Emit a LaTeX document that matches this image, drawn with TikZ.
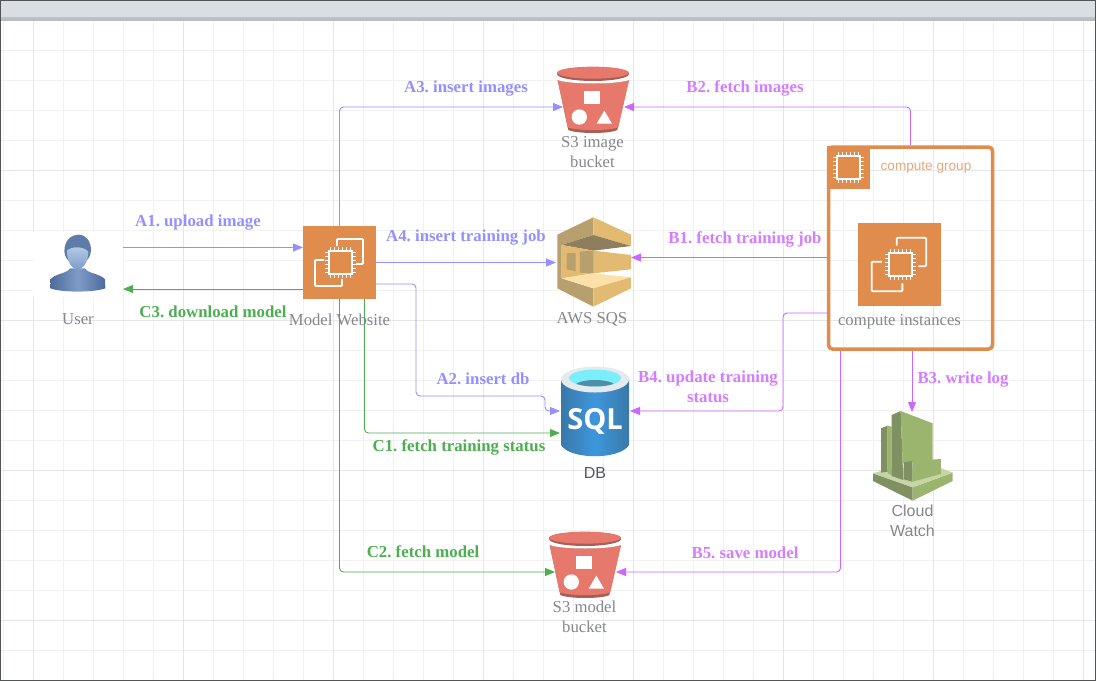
\documentclass[tikz,border=0pt]{standalone}
\usepackage{fontspec}
\setmainfont{Liberation Serif}
\setsansfont{Liberation Sans}
\newfontfamily\sqlfont{Open Sans}
\usetikzlibrary{arrows.meta,calc}
\definecolor{ca}{HTML}{9590FF}
\definecolor{cb}{HTML}{CC66FF}
\definecolor{cc}{HTML}{4CAF50}
\definecolor{awsor}{HTML}{E08C4D}
\definecolor{gminor}{HTML}{F1F1F1}
\definecolor{gmajor}{HTML}{E6E6E6}
\definecolor{lab}{HTML}{85878F}
\definecolor{s3a}{HTML}{E7796C}
\definecolor{s3b}{HTML}{A85E55}
\definecolor{sqa}{HTML}{E2BA72}
\definecolor{sqb}{HTML}{B8A06E}
\definecolor{sqc}{HTML}{8E7E5E}
\definecolor{sqd}{HTML}{FBE0A9}
\definecolor{cwa}{HTML}{9BB56F}
\definecolor{cwb}{HTML}{7F9163}
\definecolor{cwc}{HTML}{C5D5A5}
\definecolor{HTMLbody}{HTML}{4C6A9C}
\definecolor{HTMLbodymid}{HTML}{7F9CC8}
\definecolor{HTMLhair}{HTML}{5F7BA8}
\definecolor{HTMLface}{HTML}{B5CDE9}
\definecolor{HTMLbar}{HTML}{D9DEE2}
\definecolor{HTMLframe}{HTML}{505458}
\definecolor{HTMLsqla}{HTML}{3D97DC}
\definecolor{HTMLsqlb}{HTML}{3A78A8}
\definecolor{HTMLring}{HTML}{E6EAEC}
\definecolor{HTMLcyan}{HTML}{7AEEFB}
\definecolor{HTMLdeep}{HTML}{4B8FA8}
\definecolor{HTMLdb}{HTML}{55595F}
\tikzset{
  x=1pt,y=-1pt,
  box/.style={inner sep=0pt,outer sep=0pt,minimum width=#1},
  conn/.style={line width=0.9pt,rounded corners=4pt,-{Triangle[length=10pt,width=8pt]}},
  la/.style={conn,draw=ca},
  lb/.style={conn,draw=cb},
  lc/.style={conn,draw=cc},
  steplabel/.style={font=\frenchspacing\fontsize{16.8}{20}\selectfont\bfseries,align=center,inner sep=0pt},
  ta/.style={steplabel,text=ca},
  tb/.style={steplabel,text=cb!85!white},
  tc/.style={steplabel,text=cc},
  caplabel/.style={font=\fontsize{16.7}{20}\selectfont,text=lab,align=center,inner sep=0pt},
  sanscap/.style={font=\fontsize{16}{20}\selectfont\sffamily,text=lab,align=center,inner sep=0pt},
  chip/.pic={
    \draw[white,line width=1.9pt] (-11.5,-11.5) rectangle (11.5,11.5);
    \foreach \t in {-10,-6,-2,2,6,10}{
      \draw[white,line width=1.4pt] (\t,-15.5) -- (\t,-12);
      \draw[white,line width=1.4pt] (\t,12) -- (\t,15.5);
      \draw[white,line width=1.4pt] (-15.5,\t) -- (-12,\t);
      \draw[white,line width=1.4pt] (12,\t) -- (15.5,\t);
    }
  },
  ectwo/.pic={
    \fill[awsor] (0,0) rectangle (73,73);
    \draw[white,line width=1.8pt,rounded corners=1pt] (34,20) -- (34,13) -- (60,13) -- (60,38) -- (53,38);
    \draw[white,line width=1.8pt,rounded corners=1pt] (21,34) -- (12,34) -- (12,60) -- (39,60) -- (39,53);
    \pic at (37.5,36.5) {chip};
  },
  sthree/.pic={
    \fill[s3b] (83,90) -- (115,240) .. controls (140,252) and (240,252) .. (262,240) -- (297,90) -- cycle;
    \fill[s3a] (83,90) .. controls (120,104) and (260,104) .. (297,90) -- (265,232) .. controls (240,243) and (140,243) .. (113,232) -- cycle;
    \fill[white] (81,75) -- (83,90) .. controls (120,104) and (260,104) .. (297,90) -- (298,75) -- cycle;
    \fill[s3b] (189,72) ellipse [x radius=108, y radius=21];
    \fill[s3a] (189,68) ellipse [x radius=108, y radius=18];
    \fill[white] (162,124) rectangle (210,163);
    \fill[white] (148,201) circle [radius=23];
    \fill[white] (223,182) -- (200,221) -- (246,221) -- cycle;
  },
  sqsicon/.pic={
    \fill[sqb] (190,52) -- (82,104) -- (82,265) -- (190,320) -- (190,265) -- (95,235) -- (95,135) -- (190,105) -- cycle;
    \fill[sqa] (190,52) -- (303,104) -- (303,138) -- (190,105) -- cycle;
    \fill[sqc] (190,105) -- (303,138) -- (190,152) -- (95,135) -- cycle;
    \fill[sqa] (95,135) -- (190,152) -- (303,165) -- (303,208) -- (190,220) -- (95,235) -- cycle;
    \fill[sqb] (110,160) -- (137,158) -- (137,214) -- (110,208) -- cycle;
    \fill[sqb] (150,155) -- (190,152) -- (190,220) -- (150,218) -- cycle;
    \fill[sqd] (95,235) -- (190,220) -- (303,232) -- (190,265) -- cycle;
    \fill[sqa] (190,265) -- (303,232) -- (303,265) -- (190,320) -- cycle;
  },
  cwicon/.pic={
    \fill[cwb] (69,220) -- (188,262) -- (188,302) -- (69,243) -- cycle;
    \fill[cwa] (188,262) -- (308,218) -- (308,243) -- (188,302) -- cycle;
    \fill[cwc] (69,220) -- (125,203) -- (275,205) -- (308,218) -- (188,262) -- cycle;
    \fill[cwb] (93,85) -- (113,77) -- (113,215) -- (93,218) -- cycle;
    \fill[cwa] (113,77) -- (125,80) -- (125,225) -- (113,220) -- cycle;
    \fill[cwb] (125,45) -- (152,33) -- (160,240) -- (125,228) -- cycle;
    \fill[cwa] (152,33) -- (248,70) -- (248,180) -- (160,190) -- (160,240) -- cycle;
    \fill[cwb] (162,187) -- (187,183) -- (187,245) -- (162,238) -- cycle;
    \fill[cwa] (187,183) -- (273,177) -- (273,222) -- (187,245) -- cycle;
  },
  usericon/.pic={
    \shade[left color=HTMLbody,right color=HTMLbody,middle color=HTMLbodymid]
      (91,205) -- (92,178) .. controls (105,160) and (140,162) .. (150,145) -- (195,145) .. controls (205,162) and (240,160) .. (255,178) -- (256,205) .. controls (220,218) and (125,218) .. (91,205) -- cycle;
    \fill[HTMLhair] (133,95) .. controls (133,60) and (155,44) .. (175,44) .. controls (200,44) and (213,65) .. (213,92) .. controls (211,110) and (205,118) .. (195,125) -- (150,125) .. controls (140,118) and (135,110) .. (133,95) -- cycle;
    \shade[top color=HTMLface,bottom color=HTMLbodymid] (141,92) .. controls (155,78) and (190,78) .. (205,95) .. controls (205,125) and (190,148) .. (172,148) .. controls (155,148) and (141,125) .. (141,92) -- cycle;
  }
}
\begin{document}
\begin{tikzpicture}
\path[use as bounding box] (0,0) rectangle (1096,681);
\fill[white] (0,0) rectangle (1096,681);
% grid
\foreach \gx in {3,33,...,1095}{\draw[gminor,line width=0.8pt] (\gx,20) -- (\gx,681);}
\foreach \gy in {20,50,...,680}{\draw[gminor,line width=0.8pt] (0,\gy) -- (1096,\gy);}
\foreach \gx in {33,183,...,1095}{\draw[gmajor,line width=0.8pt] (\gx,20) -- (\gx,681);}
\foreach \gy in {170,320,470,620}{\draw[gmajor,line width=0.8pt] (0,\gy) -- (1096,\gy);}
% title bar and frame
\shade[top color=HTMLbar,bottom color=HTMLbar!85!black] (0,0) rectangle (1096,20);
\fill[HTMLbar] (0,0) rectangle (1096,17);
\draw[HTMLframe,line width=1.2pt] (0.5,0.5) rectangle (1095.5,680.5);
% anchors of the icons
\fill[white] (33,232) rectangle (123,297);
\node[box=90pt,minimum height=65pt] (user) at (78,264.5) {};
\node[box=73pt,minimum height=73pt] (web) at (339.5,262.5) {};
\node[box=61pt,minimum height=68pt] (s3img) at (593.5,100) {};
\node[box=75pt,minimum height=90pt] (sqs) at (593.5,262.5) {};
\node[box=70pt,minimum height=92pt] (db) at (595,411) {};
\node[box=80pt,minimum height=102pt] (cw) at (912,463) {};
\node[box=61pt,minimum height=68pt] (s3mod) at (585.5,565) {};
\node[box=167pt,minimum height=205pt] (group) at (910.5,247.5) {};
\node[box=83pt,minimum height=83pt] (inst) at (899.5,264.5) {};
% connectors
\draw[la] (user.east |- 0,247.5) -- (web.west |- 0,247.5);
\draw[lc] (web.west |- 0,289) -- (user.east |- 0,289);
\draw[la] (web.north) -- (web.north |- 0,107) -- (s3img.west |- 0,107);
\draw[lb] (group.north) -- (group.north |- 0,107) -- (s3img.east |- 0,107);
\draw[la] (web.east |- 0,262.5) -- (sqs.west |- 0,262.5);
\draw[lb] (group.west |- 0,257.5) -- (sqs.east |- 0,257.5);
\draw[la] (web.east |- 0,284) -- (416,284) -- (416,396) -- (545,396) -- (545,411) -- (db.west |- 0,411);
\draw[lc] (364.5,0 |- web.south) -- (364.5,433) -- (db.west |- 0,433);
\draw[lc] (web.south) -- (web.south |- 0,572) -- (s3mod.west |- 0,572);
\draw[lb] (group.west |- 0,313) -- (783,313) -- (783,411) -- (db.east |- 0,411);
\draw[lb] (cw.north |- group.south) -- (cw.north);
\draw[lb] (840.5,0 |- group.south) -- (840.5,572) -- (s3mod.east |- 0,572);
% icons
\pic at (303,226) {ectwo};
\pic[scale=1.137] at (858,223) {ectwo};
\pic[scale=0.3333] at (530,50) {sthree};
\pic[scale=0.3333] at (522,515) {sthree};
\pic[scale=0.3333] at (530,200) {sqsicon};
\pic[scale=0.3333] at (850,400) {cwicon};
\pic[scale=0.3333] at (20,220) {usericon};
% database
\shade[left color=HTMLsqlb,right color=HTMLsqlb,middle color=HTMLsqla]
  (561,379) -- (561,445) .. controls (570,460) and (620,460) .. (629,445) -- (629,379) -- cycle;
\fill[HTMLring] (595,379.5) ellipse [x radius=34, y radius=13];
\fill[HTMLcyan] (595,378) ellipse [x radius=26, y radius=8.5];
\begin{scope}
\clip (595,378) ellipse [x radius=26, y radius=8.5];
\fill[HTMLdeep] (595,386) ellipse [x radius=20, y radius=6];
\end{scope}
\node[font=\fontsize{29}{30}\selectfont\sqlfont,text=white,inner sep=0pt] (sqltext) at (595,421) {\textbf{SQL}};
% compute group
\draw[awsor,line width=3.5pt,rounded corners=4pt] (828.5,147) rectangle (992.5,349);
\fill[awsor] (827,146) rectangle (870,189);
\pic at (848.5,167.5) {chip};
\node[font=\fontsize{13.6}{16}\selectfont\sffamily,text=awsor!75!white,inner sep=0pt] (grouplabel) at (926,168) {compute group};
% labels
\node[caplabel] (userlabel) at (78,319) {User};
\node[caplabel] (weblabel) at (339.5,320) {Model Website};
\node[caplabel] (s3imglabel) at (592.5,152) {S3 image\\bucket};
\node[caplabel] (sqslabel) at (592,319) {AWS SQS};
\node[font=\fontsize{16}{20}\selectfont\sffamily,text=HTMLdb,inner sep=0pt] (dblabel) at (595,473) {DB};
\node[sanscap] (cwlabel) at (912.5,520.5) {Cloud\\Watch};
\node[caplabel] (s3modlabel) at (584.5,617) {S3 model\\bucket};
\node[caplabel] (instlabel) at (899.5,322) {compute instances};
% step labels
\node[ta] (a1) at (198,223) {A1. upload image};
\node[ta] (a2) at (483,379) {A2. insert db};
\node[ta] (a3) at (466,88.5) {A3. insert images};
\node[ta] (a4) at (466,237.5) {A4. insert training job};
\node[tb] (b1) at (745,239.5) {B1. fetch training job};
\node[tb] (b2) at (745,88.5) {B2. fetch images};
\node[tb] (b3) at (963,380) {B3. write log};
\node[tb] (b4) at (708,387) {B4. update training\\status};
\node[tb] (b5) at (745,553) {B5. save model};
\node[tc] (c1) at (459,447.5) {C1. fetch training status};
\node[tc] (c2) at (423,552) {C2. fetch model};
\node[tc] (c3) at (213,312) {C3. download model};
\end{tikzpicture}
\end{document}
